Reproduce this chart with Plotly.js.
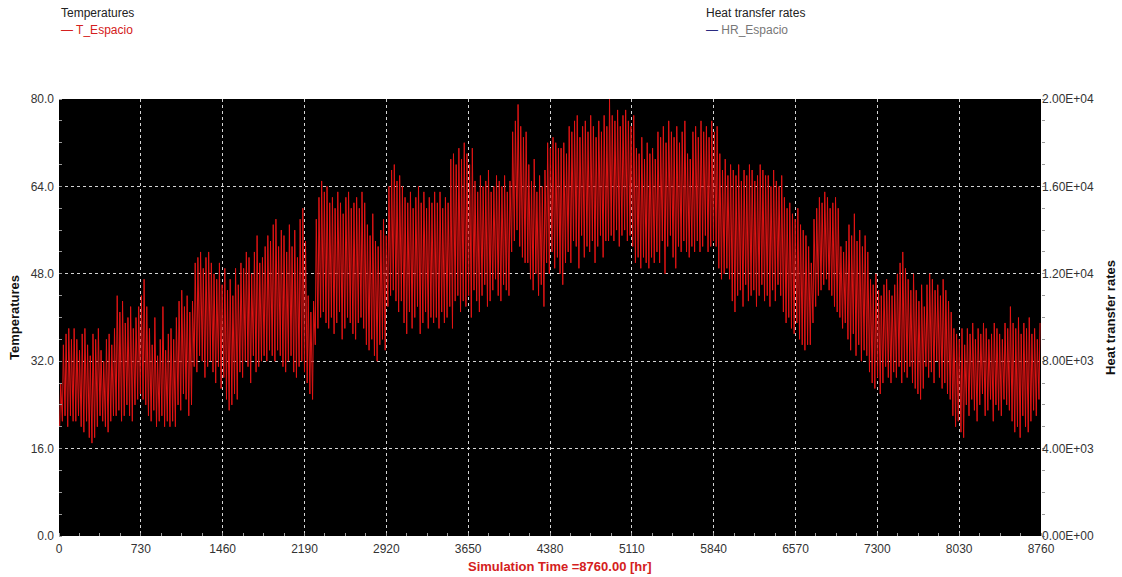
<!DOCTYPE html>
<html>
<head>
<meta charset="utf-8">
<script src="https://cdn.plot.ly/plotly-3.0.1.min.js"></script>
<style>html,body{margin:0;padding:0;background:#fff;}#chart{width:1122px;height:577px;}</style>
</head>
<body>
<div id="chart"></div>
<script>
// Daily maximum of T_Espacio (one value per day, 365 days)
const dailyMax = [
  28,35,37,38,36,38,
  36,34,37,38,35,33,37,36,38,34,32,36,37,35,38,
  44,41,43,39,40,42,38,
  40,42,44,47,42,
  38,35,40,33,36,42,34,37,
  38,36,40,
  43,45,42,44,41,43,
  50,51,52,49,51,52,50,
  48,47,50,46,49,
  45,47,44,49,46,
  50,49,52,51,48,52,55,50,51,
  53,55,54,57,58,53,56,
  55,52,57,53,56,51,58,60,54,
  44,41,43,
  58,62,65,63,64,
  61,62,60,63,61,59,62,63,60,61,62,60,63,61,
  57,55,59,54,53,56,58,55,
  64,67,68,65,66,64,
  62,61,63,60,62,64,61,63,60,62,61,63,
  61,63,60,62,61,
  69,70,68,71,69,72,70,68,71,
  65,63,66,64,65,67,63,64,66,65,64,66,63,65,
  74,76,79,75,73,74,
  68,65,69,63,66,64,67,
  72,71,73,72,71,
  71,72,70,
  75,74,76,77,73,75,76,74,77,75,73,76,74,77,75,
  80,
  77,76,78,75,77,78,76,75,77,
  71,70,73,69,72,70,71,69,
  74,73,75,72,76,74,73,75,72,74,76,
  70,69,
  74,75,73,76,74,75,73,76,74,75,
  70,67,69,66,68,
  67,66,68,65,67,66,68,67,65,66,68,67,66,
  66,64,67,65,64,66,
  62,60,61,59,58,60,57,56,55,53,
  50,
  58,60,62,61,63,62,60,61,62,60,
  53,52,54,
  57,55,59,54,56,53,55,52,
  47,46,48,45,44,46,47,45,44,
  46,48,50,52,49,47,45,48,
  45,43,46,42,
  46,48,47,45,46,44,47,45,43,41,
  38,37,36,38,35,
  38,37,39,36,38,37,39,38,36,37,39,38,37,36,39,38,
  42,
  39,38,40,37,39,38,40,37,
  38,36,39
];
// Daily minimum of T_Espacio (365 days)
const dailyMin = [
  20,21,22,20,22,21,
  21,22,20,19,21,18,17,18,20,22,21,20,19,21,22,
  22,23,21,22,24,22,21,
  24,25,26,25,24,
  22,21,23,20,21,22,20,21,
  20,21,20,
  24,23,26,25,22,24,
  31,30,33,32,29,31,32,
  30,28,31,27,29,
  25,23,24,26,25,
  30,29,32,31,28,33,30,31,32,
  33,32,34,33,32,34,33,
  31,30,32,33,30,29,31,32,30,
  28,26,25,
  35,38,40,41,39,
  38,40,37,39,41,36,38,40,39,37,36,39,40,38,
  35,34,36,33,32,35,36,34,
  42,44,45,43,41,43,
  39,37,41,38,40,42,37,39,41,38,40,39,
  40,38,41,39,40,
  42,38,43,44,41,43,42,44,40,
  45,43,41,44,46,42,43,45,47,44,43,46,45,44,
  52,54,56,53,51,50,
  50,47,45,48,44,46,42,
  50,48,52,49,51,
  48,46,50,
  52,50,54,53,49,55,51,53,52,54,50,53,55,51,54,
  54,
  55,54,56,53,55,56,54,55,53,
  50,51,49,51,50,49,51,50,
  52,50,54,48,53,55,51,49,53,52,54,
  52,51,
  53,52,54,52,53,55,52,53,54,53,
  49,47,48,49,47,
  43,41,44,45,42,46,43,44,45,42,44,46,43,
  44,42,45,43,46,44,
  41,39,40,38,37,39,36,35,34,35,
  35,
  39,42,44,45,46,47,45,44,42,41,
  40,38,39,
  36,34,37,33,35,32,34,33,
  30,28,27,29,26,28,31,29,28,
  30,29,31,28,30,29,31,28,
  27,26,25,27,
  31,29,30,28,32,29,27,28,26,25,
  22,20,21,19,18,
  24,22,25,23,21,24,26,22,23,25,21,24,23,22,25,24,
  23,
  21,19,20,18,22,20,19,21,
  23,22,25
];
const xTicks = [0,730,1460,2190,2920,3650,4380,5110,5840,6570,7300,8030,8760];
const yTicks = [0,16,32,48,64,80];
const y2Ticks = [0,4000,8000,12000,16000,20000];
const y2Labels = ["0.00E+00","4.00E+03","8.00E+03","1.20E+04","1.60E+04","2.00E+04"];

// Build hourly-position series: daily low in the early morning, daily high in the afternoon
const hours = [], temps = [];
for (let d = 0; d < dailyMax.length; d++) {
  hours.push(d * 24 + 6);  temps.push(dailyMin[d]);
  hours.push(d * 24 + 15); temps.push(dailyMax[d]);
}

const font = "Liberation Sans, Arial, sans-serif";
const traces = [
  {x: hours, y: temps, type: 'scatter', mode: 'lines', name: 'T_Espacio',
   line: {color: 'rgb(225,20,20)', width: 1}, showlegend: false, hoverinfo: 'skip'},
  {x: [], y: [], type: 'scatter', mode: 'lines', name: 'HR_Espacio', yaxis: 'y2',
   line: {color: '#2a2a80', width: 1}, showlegend: false}
];

// paper-coordinate helpers (plot area spans 59..1041 px horizontally, 99..536 px vertically)
const px = X => (X - 59) / 982;
const py = Y => (536 - Y) / 437;

const gridStyle = {gridcolor: 'rgba(235,235,235,0.9)', gridwidth: 1, griddash: '3px,3px'};
const layout = {
  width: 1122, height: 577,
  margin: {l: 59, r: 81, t: 99, b: 41},
  paper_bgcolor: '#ffffff', plot_bgcolor: '#000000',
  font: {family: font, size: 12, color: '#333'},
  showlegend: false,
  xaxis: Object.assign({
    range: [0, 8760], tickvals: xTicks, ticktext: xTicks.map(String),
    showgrid: true, zeroline: false, showline: false,
    ticks: '', tickfont: {size: 12, color: '#333'}, ticklabelstandoff: 4,
    minor: {dtick: 182.5, tick0: 0, ticks: 'inside', ticklen: 3, tickcolor: '#999', showgrid: false}
  }, gridStyle),
  yaxis: Object.assign({
    range: [0, 80], tickvals: yTicks, ticktext: yTicks.map(v => v.toFixed(1)),
    showgrid: true, zeroline: false, showline: false,
    ticks: '', tickfont: {size: 12, color: '#333'}, ticklabelstandoff: 4,
    title: {text: '<b>Temperatures</b>', font: {size: 13, color: '#111'}, standoff: 8},
    minor: {dtick: 4, tick0: 0, ticks: 'inside', ticklen: 3, tickcolor: '#999', showgrid: false}
  }, gridStyle),
  yaxis2: {
    overlaying: 'y', side: 'right', range: [0, 20000],
    tickvals: y2Ticks, ticktext: y2Labels, showgrid: false, zeroline: false, showline: false,
    ticks: '', tickfont: {size: 12, color: '#333'},
    title: {text: '<b>Heat transfer rates</b>', font: {size: 13, color: '#111'}, standoff: 12},
    minor: {dtick: 1000, tick0: 0, ticks: 'outside', ticklen: 3, tickcolor: '#999'}
  },
  annotations: [
    {xref: 'paper', yref: 'paper', x: px(560), y: py(566), xanchor: 'center', yanchor: 'middle',
     text: '<b>Simulation Time =8760.00 [hr]</b>', showarrow: false,
     font: {size: 13, color: '#d42020'}},
    {xref: 'paper', yref: 'paper', x: px(59), y: py(13), xanchor: 'left', yanchor: 'middle',
     text: 'Temperatures', showarrow: false, font: {size: 12, color: '#222'}},
    {xref: 'paper', yref: 'paper', x: px(59), y: py(30), xanchor: 'left', yanchor: 'middle',
     text: '— T_Espacio', showarrow: false, font: {size: 12, color: '#d42020'}},
    {xref: 'paper', yref: 'paper', x: px(704), y: py(13), xanchor: 'left', yanchor: 'middle',
     text: 'Heat transfer rates', showarrow: false, font: {size: 12, color: '#222'}},
    {xref: 'paper', yref: 'paper', x: px(704), y: py(30), xanchor: 'left', yanchor: 'middle',
     text: '<span style="color:#2a2a80">—</span> <span style="color:#777">HR_Espacio</span>', showarrow: false, font: {size: 12, color: '#777'}}
  ]
};

Plotly.newPlot('chart', traces, layout, {staticPlot: true, displayModeBar: false});
</script>
</body>
</html>
